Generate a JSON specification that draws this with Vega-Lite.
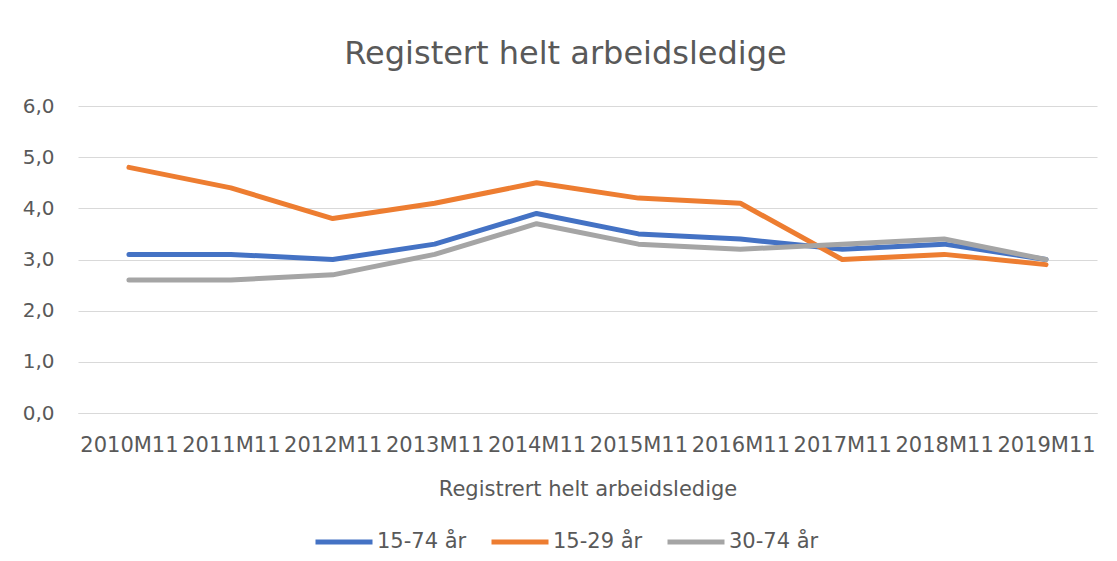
{
  "$schema": "https://vega.github.io/schema/vega-lite/v6.json",
  "width": 1019,
  "height": 307,
  "autosize": {"type": "none"},
  "padding": {"left": 78, "top": 106, "right": 20, "bottom": 148},
  "background": "white",
  "title": {
    "text": "Registert helt arbeidsledige",
    "font": "DejaVu Sans",
    "fontSize": 32,
    "fontWeight": "normal",
    "color": "#595959",
    "anchor": "middle",
    "offset": 25,
    "dx": -22
  },
  "config": {
    "view": {"stroke": null},
    "font": "DejaVu Sans"
  },
  "data": {
    "values": [
      {"periode": "2010M11", "gruppe": "15-74 år", "verdi": 3.1},
      {"periode": "2011M11", "gruppe": "15-74 år", "verdi": 3.1},
      {"periode": "2012M11", "gruppe": "15-74 år", "verdi": 3.0},
      {"periode": "2013M11", "gruppe": "15-74 år", "verdi": 3.3},
      {"periode": "2014M11", "gruppe": "15-74 år", "verdi": 3.9},
      {"periode": "2015M11", "gruppe": "15-74 år", "verdi": 3.5},
      {"periode": "2016M11", "gruppe": "15-74 år", "verdi": 3.4},
      {"periode": "2017M11", "gruppe": "15-74 år", "verdi": 3.2},
      {"periode": "2018M11", "gruppe": "15-74 år", "verdi": 3.3},
      {"periode": "2019M11", "gruppe": "15-74 år", "verdi": 3.0},
      {"periode": "2010M11", "gruppe": "15-29 år", "verdi": 4.8},
      {"periode": "2011M11", "gruppe": "15-29 år", "verdi": 4.4},
      {"periode": "2012M11", "gruppe": "15-29 år", "verdi": 3.8},
      {"periode": "2013M11", "gruppe": "15-29 år", "verdi": 4.1},
      {"periode": "2014M11", "gruppe": "15-29 år", "verdi": 4.5},
      {"periode": "2015M11", "gruppe": "15-29 år", "verdi": 4.2},
      {"periode": "2016M11", "gruppe": "15-29 år", "verdi": 4.1},
      {"periode": "2017M11", "gruppe": "15-29 år", "verdi": 3.0},
      {"periode": "2018M11", "gruppe": "15-29 år", "verdi": 3.1},
      {"periode": "2019M11", "gruppe": "15-29 år", "verdi": 2.9},
      {"periode": "2010M11", "gruppe": "30-74 år", "verdi": 2.6},
      {"periode": "2011M11", "gruppe": "30-74 år", "verdi": 2.6},
      {"periode": "2012M11", "gruppe": "30-74 år", "verdi": 2.7},
      {"periode": "2013M11", "gruppe": "30-74 år", "verdi": 3.1},
      {"periode": "2014M11", "gruppe": "30-74 år", "verdi": 3.7},
      {"periode": "2015M11", "gruppe": "30-74 år", "verdi": 3.3},
      {"periode": "2016M11", "gruppe": "30-74 år", "verdi": 3.2},
      {"periode": "2017M11", "gruppe": "30-74 år", "verdi": 3.3},
      {"periode": "2018M11", "gruppe": "30-74 år", "verdi": 3.4},
      {"periode": "2019M11", "gruppe": "30-74 år", "verdi": 3.0}
    ]
  },
  "mark": {"type": "line", "strokeWidth": 5, "strokeCap": "round", "strokeJoin": "round"},
  "encoding": {
    "x": {
      "field": "periode",
      "type": "ordinal",
      "scale": {"paddingInner": 0, "paddingOuter": 0},
      "axis": {
        "title": "Registrert helt arbeidsledige",
        "titleFont": "DejaVu Sans",
        "titleFontSize": 21,
        "titleFontWeight": "normal",
        "titleColor": "#595959",
        "titlePadding": 23,
        "labelAngle": 0,
        "labelFont": "DejaVu Sans",
        "labelFontSize": 21,
        "labelColor": "#595959",
        "labelPadding": 21,
        "labelOverlap": false,
        "ticks": false,
        "domainColor": "#d9d9d9",
        "domainWidth": 1,
        "grid": false
      }
    },
    "y": {
      "field": "verdi",
      "type": "quantitative",
      "scale": {"domain": [0, 6], "nice": false},
      "axis": {
        "title": null,
        "values": [0, 1, 2, 3, 4, 5, 6],
        "format": ".1f",
        "labelExpr": "replace(datum.label, '.', ',')",
        "labelFont": "DejaVu Sans",
        "labelFontSize": 20,
        "labelColor": "#595959",
        "labelPadding": 24,
        "ticks": false,
        "domain": false,
        "gridColor": "#d9d9d9",
        "gridWidth": 1
      }
    },
    "color": {
      "field": "gruppe",
      "type": "nominal",
      "scale": {
        "domain": ["15-74 år", "15-29 år", "30-74 år"],
        "range": ["#4472C4", "#ED7D31", "#A5A5A5"]
      },
      "legend": {
        "title": null,
        "orient": "none",
        "direction": "horizontal",
        "legendX": 235,
        "legendY": 405,
        "symbolType": "stroke",
        "symbolSize": 3249,
        "symbolStrokeWidth": 5,
        "labelFont": "DejaVu Sans",
        "labelFontSize": 21,
        "labelColor": "#595959",
        "labelOffset": 2,
        "columnPadding": 14
      }
    }
  }
}
